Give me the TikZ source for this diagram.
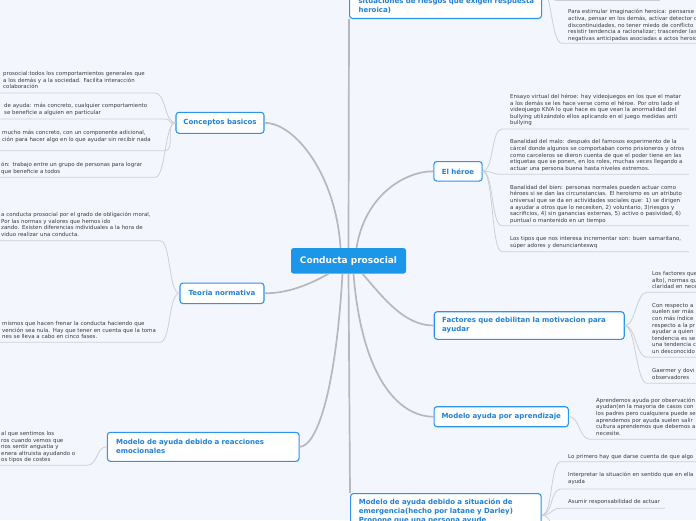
\documentclass[tikz,border=0pt]{standalone}
\usepackage{fontspec}
\setmainfont{DejaVu Sans}
\definecolor{bgc}{HTML}{F3F6FD}
\definecolor{mainc}{HTML}{1C96E8}
\definecolor{topb}{HTML}{2B94EC}
\definecolor{topt}{HTML}{1F80DA}
\definecolor{connc}{HTML}{B4B8BF}
\definecolor{leafc}{HTML}{CBCFD7}
\definecolor{leaft}{HTML}{3A3A3A}
\newcommand\lstrut{\rule{0pt}{4.6pt}}
\newcommand\rleaf[5]{\coordinate (#2s) at (#3,#4);\coordinate (#2e) at (#5,#4);\draw[lconn] (#1) .. controls +(11,0) and +(-11,0) .. (#2s) -- (#2e);}
\newcommand\lleaf[5]{\coordinate (#2s) at (#3,#4);\coordinate (#2e) at (#5,#4);\draw[lconn] (#2e) -- (#2s) .. controls +(11,0) and +(-11,0) .. (#1);}
\tikzset{
 mainbox/.style={fill=mainc, rounded corners=2.5pt, text=white, font=\fontsize{9}{11}\selectfont\bfseries, inner sep=0pt},
 topic/.style={draw=topb, line width=1.1pt, fill=white, rounded corners=3pt, text=topt, font=\fontsize{7}{9}\selectfont\bfseries, inner sep=0pt},
 mtopic/.style={topic, align=left},
 leaf/.style={anchor=north west, inner sep=0pt, text width=220pt, align=left, text=leaft, font=\fontsize{5.45}{6.6}\selectfont, execute at begin node=\lstrut},
 mconn/.style={draw=connc, line width=1.7pt},
 lconn/.style={draw=leafc, line width=0.8pt},
}
\begin{document}
\begin{tikzpicture}[x=1pt,y=-1pt]
\useasboundingbox (0,0) rectangle (696,520);
\clip (0,0) rectangle (696,520);
\fill[bgc] (0,0) rectangle (696,520);

% central node and topics
\node[mainbox, minimum width=115pt, minimum height=25.5pt] (main) at (348.5,260.8) {Conducta prosocial};
\node[topic, minimum width=88pt, minimum height=21pt] (cb) at (220,122.8) {Conceptos basicos};
\node[topic, minimum width=84pt, minimum height=20.5pt] (tn) at (222,293.3) {Teoria normativa};
\node[mtopic, text width=174.3pt, inner xsep=8.7pt, minimum height=29pt] (re) at (203.2,446.8) {\mbox{Modelo de ayuda debido a reacciones}\\\mbox{emocionales}};
\node[mtopic, text width=174pt, inner xsep=9pt, inner ysep=5pt, anchor=south west] (tp) at (349,19) {\mbox{situaciones de riesgos que exigen respuesta}\\\mbox{heroica)}};
\node[topic, minimum width=48.3pt, minimum height=19.5pt] (he) at (458,171.3) {El héroe};
\node[mtopic, text width=174pt, inner xsep=8pt, minimum height=27.6pt] (fa) at (529.2,325.5) {\mbox{Factores que debilitan la motivacion para}\\\mbox{ayudar}};
\node[topic, minimum width=134.3pt, minimum height=20pt] (ap) at (501.2,416.7) {Modelo ayuda por aprendizaje};
\node[mtopic, text width=174pt, inner xsep=8.3pt, inner ysep=5.5pt, anchor=north west] (em) at (350,493) {\mbox{Modelo de ayuda debido a situación de}\\\mbox{emergencia(hecho por latane y Darley)}\\\mbox{Propone que una persona ayude}};

% main connectors
\draw[mconn] ([xshift=-8pt]main.north) .. controls (336,175) and (295,122.8) .. (cb.east);
\draw[mconn] (main.north) -- (tp.south west);
\draw[mconn] ([xshift=8pt]main.north) .. controls (365,195) and (405,171.3) .. (he.west);
\draw[mconn] ([xshift=-20pt]main.south) .. controls (305,287) and (285,293.3) .. (tn.east);
\draw[mconn] ([xshift=-6pt]main.south) .. controls (335,400) and (315,446.8) .. (re.east);
\draw[mconn] (main.south) -- (em.north west);
\draw[mconn] ([xshift=5pt]main.south) .. controls (362,380) and (400,416.7) .. (ap.west);
\draw[mconn] ([xshift=14pt]main.south) .. controls (385,300) and (405,325.5) .. (fa.west);

% Conceptos basicos leaves
\node[leaf] (cb1) at (3,70.7) {prosocial:todos los comportamientos generales que\\a los demás y a la sociedad. Facilita interacción\\colaboración};
\node[leaf] (cb2) at (4,102.7) {de ayuda: más concreto, cualquier comportamiento\\se beneficie a alguien en particular};
\node[leaf] (cb3) at (2,129.7) {mucho más concreto, con un componente adicional,\\ción para hacer algo en lo que ayudar sin recibir nada};
\node[leaf] (cb4) at (1,161.7) {ón: trabajo entre un grupo de personas para lograr\\que beneficie a todos};
\lleaf{cb.west}{cbu1}{155}{93}{-5}
\lleaf{cb.west}{cbu2}{163}{119}{-5}
\lleaf{cb.west}{cbu3}{165}{150.7}{-5}
\lleaf{cb.west}{cbu4}{155}{177.3}{-5}

% Teoria normativa leaves
\node[leaf] (tn1) at (1,211.7) {a conducta prosocial por el grado de obligación moral,\\Por las normas y valores que hemos ido\\zando. Existen diferencias individuales a la hora de\\viduo realizar una conducta.};
\node[leaf] (tn2) at (2,320.7) {mismos que hacen frenar la conducta haciendo que\\vención sea nula. Hay que tener en cuenta que la toma\\nes se lleva a cabo en cinco fases.};
\lleaf{tn.west}{tnu1}{160}{240.7}{-5}
\lleaf{tn.west}{tnu2}{160}{342.3}{-5}

% reacciones emocionales leaf
\node[leaf] (re1) at (1,430.7) {al que sentimos los\\ros cuando vemos que\\nos sentir angustia y\\enera altruista ayudando o\\os tipos de costes};
\lleaf{re.west}{reu1}{87}{465.3}{-5}

% top node leaves
\coordinate (tpr) at (541,-12);
\rleaf{tpr}{tpu1}{557}{0.5}{660}
\node[leaf] (tp2) at (568,9) {Para estimular imaginación heroica: pensarse\\activa, pensar en los demás, activar detector d\\discontinuidades, no tener miedo de conflicto\\resistir tendencia a racionalizar; trascender las\\negativas anticipadas asociadas a actos heroic};
\rleaf{tpr}{tpu2}{562}{43.3}{700}

% El heroe leaves
\node[leaf] (he1) at (510,93.7) {Ensayo virtual del héroe: hay videojuegos en los que el matar\\a los demás se les hace verse como el héroe. Por otro lado el\\videojuego KIVA lo que hace es que vean la anormalidad del\\bullying utilizándolo ellos aplicando en el juego medidas anti\\bullying};
\node[leaf] (he2) at (510,139) {Banalidad del malo: después del famosos experimento de la\\cárcel donde algunos se comportaban como prisioneros y otros\\como carceleros se dieron cuenta de que el poder tiene en las\\etiquetas que se ponen, en los roles, muchas veces llegando a\\actuar una persona buena hasta niveles extremos.};
\node[leaf] (he3) at (510,184.4) {Banalidad del bien: personas normales pueden actuar como\\héroes si se dan las circunstancias. El heroismo es un atributo\\universal que se da en actividades sociales que: 1) se dirigen\\a ayudar a otros que lo necesiten, 2) voluntario, 3)riesgos y\\sacrificios, 4) sin ganancias externas, 5) activo o pasividad, 6)\\puntual o mantenido en un tiempo};
\node[leaf] (he4) at (510,236) {Los tipos que nos interesa incrementar son: buen samaritano,\\súper adores y denuncianteswq};
\rleaf{he.east}{heu1}{502}{129}{689}
\rleaf{he.east}{heu2}{502}{174.3}{689}
\rleaf{he.east}{heu3}{502}{225.7}{689}
\rleaf{he.east}{heu4}{502}{251.7}{689}

% Factores leaves
\node[leaf] (fa1) at (652,270.7) {Los factores que\\alto), normas qu\\claridad en nece};
\node[leaf] (fa2) at (652,302.4) {Con respecto a\\suelen ser más\\con más índice\\respecto a la pr\\ayudar a quien\\tendencia es se\\una tendencia c\\un desconocido};
\node[leaf] (fa3) at (652,367.7) {Gaermer y dovi\\observadores};
\rleaf{fa.east}{fau1}{647}{292.3}{700}
\rleaf{fa.east}{fau2}{647}{357.3}{700}
\rleaf{fa.east}{fau3}{647}{383.3}{700}

% Aprendizaje leaf
\node[leaf] (ap1) at (596,397.4) {Aprendemos ayuda por observación\\ayudan(en la mayoria de casos con\\los padres pero cualquiera puede se\\aprendemos por ayuda suelen salir\\cultura aprendemos que debemos a\\necesite.};
\rleaf{ap.east}{apu1}{590}{439.3}{700}

% Emergencia leaves
\coordinate (emr) at (542,515);
\node[leaf] (em1) at (568,453.4) {Lo primero hay que darse cuenta de que algo};
\node[leaf] (em2) at (568,471.7) {Interpretar la situación en sentido que en ella\\ayuda};
\node[leaf] (em3) at (568,498.4) {Asumir responsabilidad de actuar};
\rleaf{emr}{emu1}{561}{461.7}{700}
\rleaf{emr}{emu2}{561}{489}{700}
\rleaf{emr}{emu3}{561}{508.3}{665}
\rleaf{emr}{emu4}{561}{535}{700}
\end{tikzpicture}
\end{document}
